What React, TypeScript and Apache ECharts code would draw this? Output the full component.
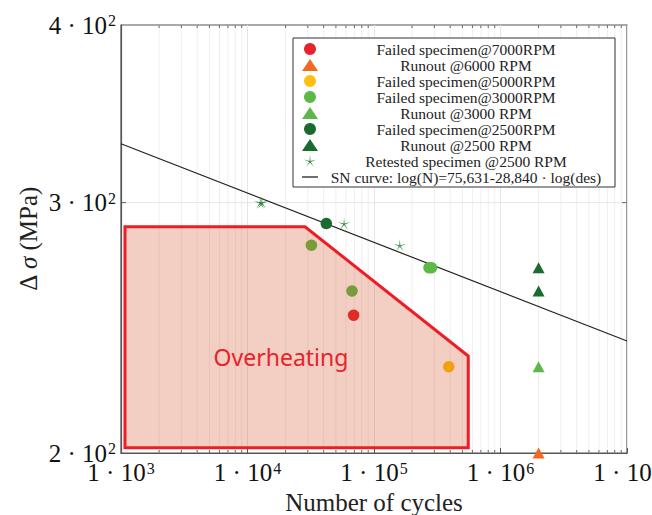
import { useEffect, useRef } from 'react';
import * as echarts from 'echarts';

// ---- axis structure ----
const xTickValues = [1e3, 1e4, 1e5, 1e6, 1e7];
const xTickLabels = ['1 · 10{s|3}', '1 · 10{s|4}', '1 · 10{s|5}', '1 · 10{s|6}', '1 · 10{s|7}'];
const xMinorMantissas = [2, 3, 4, 5, 6, 7, 8, 9];
const xMinorDecades = [1e3, 1e4, 1e5, 1e6];
const yTickValues = [200, 300, 400];
const yTickLabels = ['2 · 10{s|2}', '3 · 10{s|2}', '4 · 10{s|2}'];

// ---- data (cycles, stress range MPa) ----
const failed7000 = [[6.9e4, 250]];
const runout6000 = [[2.0e6, 200]];
const failed5000 = [[3.9e5, 230]];
const failed3000 = [[3.2e4, 280], [6.7e4, 260], [2.72e5, 270], [2.85e5, 270]];
const runout3000 = [[2.0e6, 230]];
const failed2500 = [[4.2e4, 290]];
const runout2500 = [[2.0e6, 270], [2.0e6, 260]];
const retested2500 = [[1.26e4, 300], [1.3e4, 300], [5.8e4, 290], [1.6e5, 280]];

const snCycles = [1e3, 1e7];
const snStress = [330, 239.8];

const overheatCycles = [1075, 2.85e4, 5.56e5, 5.56e5, 1075];
const overheatStress = [288.5, 288.5, 234, 201.7, 201.7];
const overheatLabel = 'Overheating';
const overheatLabelAt = [1.84e4, 233.8];

const names = [
  'Failed specimen@7000RPM',
  'Runout @6000 RPM',
  'Failed specimen@5000RPM',
  'Failed specimen@3000RPM',
  'Runout @3000 RPM',
  'Failed specimen@2500RPM',
  'Runout @2500 RPM',
  'Retested specimen @2500 RPM',
  'SN curve: log(N)=75,631-28,840 · log(des)',
];

const SERIF = '"Liberation Serif", "Times New Roman", serif';
const STAR =
  'path://M100,0 L107.6,89.5 L195.11,69.1 L112.3,104 L158.78,180.9 L100,113 L41.22,180.9 L87.7,104 L4.89,69.1 L92.4,89.5 Z';
const LINE_ICON = 'path://M0,0 H160 V13 H0 Z';

export default function App() {
  const ref = useRef<HTMLDivElement>(null);
  useEffect(() => {
    if (!ref.current) return;
    const chart = echarts.init(ref.current, null, { renderer: 'svg' });
    const minorXs: number[] = [];
    xMinorDecades.forEach((d) => xMinorMantissas.forEach((m) => minorXs.push(m * d)));

    const scatter = (name: string, data: number[][], color: string, symbol: string, size: any, z = 3) => ({
      type: 'scatter',
      name,
      data,
      symbol,
      symbolSize: size,
      symbolKeepAspect: true,
      clip: false,
      itemStyle: { color, opacity: 1 },
      z,
    });

    const supRich = {
      s: { fontFamily: SERIF, fontSize: 16, verticalAlign: 'top', padding: [0, 0, 0, 1], color: '#111' },
    };

    chart.setOption({
      animation: false,
      backgroundColor: '#fff',
      grid: {
        left: 121,
        right: 25,
        top: 25,
        bottom: 62,
        containLabel: false,
        outerBoundsMode: 'none',
        show: true,
        borderColor: '#555',
        borderWidth: 1.2,
      },
      legend: {
        orient: 'vertical',
        left: 293,
        top: 38,
        padding: [3, 6, 2, 9],
        borderColor: '#333',
        borderWidth: 1,
        backgroundColor: '#fff',
        itemWidth: 16,
        itemHeight: 12,
        itemGap: 0,
        symbolKeepAspect: true,
        selectedMode: false,
        data: [
          ...names.slice(0, 8),
          { name: names[8], icon: LINE_ICON, itemStyle: { color: '#222' } },
        ],
        formatter: (name: string) => `{c|${name}}`,
        textStyle: {
          rich: {
            c: {
              width: 286,
              align: 'center',
              fontFamily: SERIF,
              fontSize: 15.5,
              lineHeight: 16.5,
              color: '#222',
            },
          },
        },
        z: 10,
      },
      xAxis: {
        type: 'log',
        logBase: 10,
        min: 1e3,
        max: 1e7,
        name: 'Number of cycles',
        nameLocation: 'middle',
        nameGap: 30,
        nameTextStyle: { fontFamily: SERIF, fontSize: 25, color: '#222' },
        axisLine: { show: true, lineStyle: { color: '#555', width: 1.2 } },
        axisTick: { show: true, inside: true, length: 5, lineStyle: { color: '#555' } },
        splitLine: { show: true, lineStyle: { color: '#e6e6e6', width: 1 } },
        axisLabel: {
          show: true,
          interval: 0,
          showMinLabel: true,
          showMaxLabel: true,
          margin: 7,
          fontFamily: SERIF,
          fontSize: 25,
          color: '#111',
          formatter: (v: number) => {
            let best = 0;
            xTickValues.forEach((t, i) => {
              if (Math.abs(Math.log10(t) - Math.log10(v)) < Math.abs(Math.log10(xTickValues[best]) - Math.log10(v))) best = i;
            });
            return xTickLabels[best];
          },
          rich: supRich,
        },
      },
      yAxis: {
        type: 'log',
        logBase: 10,
        min: 200,
        max: 400,
        name: '{n|Δ }{i|σ}{n| (MPa)}',
        nameLocation: 'middle',
        nameGap: 80,
        nameRotate: 90,
        nameTextStyle: {
          rich: {
            n: { fontFamily: SERIF, fontSize: 25, color: '#222' },
            i: { fontFamily: SERIF, fontSize: 25, fontStyle: 'italic', color: '#222' },
          },
        },
        axisLine: { show: true, lineStyle: { color: '#555', width: 1.2 } },
        axisTick: { show: false },
        axisLabel: { show: false },
        splitLine: { show: false },
      },
      series: [
        {
          type: 'custom',
          name: 'minor-grid',
          silent: true,
          z: 0,
          data: minorXs.map((v) => [v, 200]),
          renderItem: (params: any, api: any) => {
            const b = api.coord([api.value(0), 200]);
            const t = api.coord([api.value(0), 400]);
            return {
              type: 'group',
              children: [
                { type: 'line', shape: { x1: b[0], y1: b[1], x2: t[0], y2: t[1] }, style: { stroke: '#efefef', lineWidth: 1 } },
                { type: 'line', shape: { x1: b[0], y1: b[1], x2: b[0], y2: b[1] - 3 }, style: { stroke: '#666', lineWidth: 1 } },
                { type: 'line', shape: { x1: t[0], y1: t[1], x2: t[0], y2: t[1] + 3 }, style: { stroke: '#666', lineWidth: 1 } },
              ],
            };
          },
        },
        {
          type: 'custom',
          name: 'y-ticks',
          silent: true,
          z: 0,
          data: yTickValues.map((v) => [1e3, v]),
          renderItem: (params: any, api: any) => {
            const v = api.value(1);
            const l = api.coord([1e3, v]);
            const r = api.coord([1e7, v]);
            const children: any[] = [
              {
                type: 'text',
                x: l[0] - 5,
                y: l[1],
                style: {
                  text: yTickLabels[params.dataIndex],
                  align: 'right',
                  verticalAlign: 'middle',
                  fontFamily: SERIF,
                  fontSize: 25,
                  fill: '#111',
                  rich: supRich,
                },
              },
            ];
            if (params.dataIndex > 0 && params.dataIndex < yTickValues.length - 1) {
              children.push(
                { type: 'line', shape: { x1: l[0], y1: l[1], x2: r[0], y2: r[1] }, style: { stroke: '#e6e6e6', lineWidth: 1 } },
                { type: 'line', shape: { x1: l[0], y1: l[1], x2: l[0] + 5, y2: l[1] }, style: { stroke: '#666', lineWidth: 1 } },
                { type: 'line', shape: { x1: r[0], y1: r[1], x2: r[0] - 5, y2: r[1] }, style: { stroke: '#666', lineWidth: 1 } }
              );
            }
            return { type: 'group', children };
          },
        },
        {
          type: 'line',
          name: names[8],
          data: snCycles.map((x, i) => [x, snStress[i]]),
          symbol: 'none',
          showSymbol: false,
          lineStyle: { color: '#222', width: 1.2 },
          itemStyle: { color: '#222' },
          z: 2,
        },
        scatter(names[0], failed7000, '#e8222b', 'circle', 11.5),
        scatter(names[1], runout6000, '#f26a21', 'triangle', [12, 11]),
        scatter(names[2], failed5000, '#ffbf10', 'circle', 11.5),
        scatter(names[3], failed3000, '#5cb947', 'circle', 11.5),
        scatter(names[4], runout3000, '#5cb947', 'triangle', [12, 11]),
        scatter(names[5], failed2500, '#1b6a2e', 'circle', 11.5),
        scatter(names[6], runout2500, '#1b6a2e', 'triangle', [12, 11]),
        scatter(names[7], retested2500, '#2e8b3f', STAR, 13),
        {
          type: 'custom',
          name: 'overheating',
          silent: true,
          z: 5,
          data: [[overheatCycles[0], overheatStress[0]]],
          renderItem: (params: any, api: any) => {
            const pts = overheatCycles.map((x, i) => api.coord([x, overheatStress[i]]));
            const c = api.coord(overheatLabelAt);
            return {
              type: 'group',
              children: [
                {
                  type: 'polygon',
                  shape: { points: pts },
                  style: { fill: 'rgba(205,70,20,0.26)', stroke: '#ee1d25', lineWidth: 3, lineJoin: 'miter' },
                },
                {
                  type: 'text',
                  x: c[0],
                  y: c[1],
                  style: {
                    text: overheatLabel,
                    align: 'center',
                    verticalAlign: 'middle',
                    fontFamily: '"Noto Sans", "Open Sans", sans-serif',
                    fontSize: 23,
                    fill: '#e8232b',
                  },
                },
              ],
            };
          },
        },
      ],
    });
    return () => chart.dispose();
  }, []);
  return <div ref={ref} style={{ position: 'fixed', left: 0, top: 0, width: 652, height: 515 }} />;
}
